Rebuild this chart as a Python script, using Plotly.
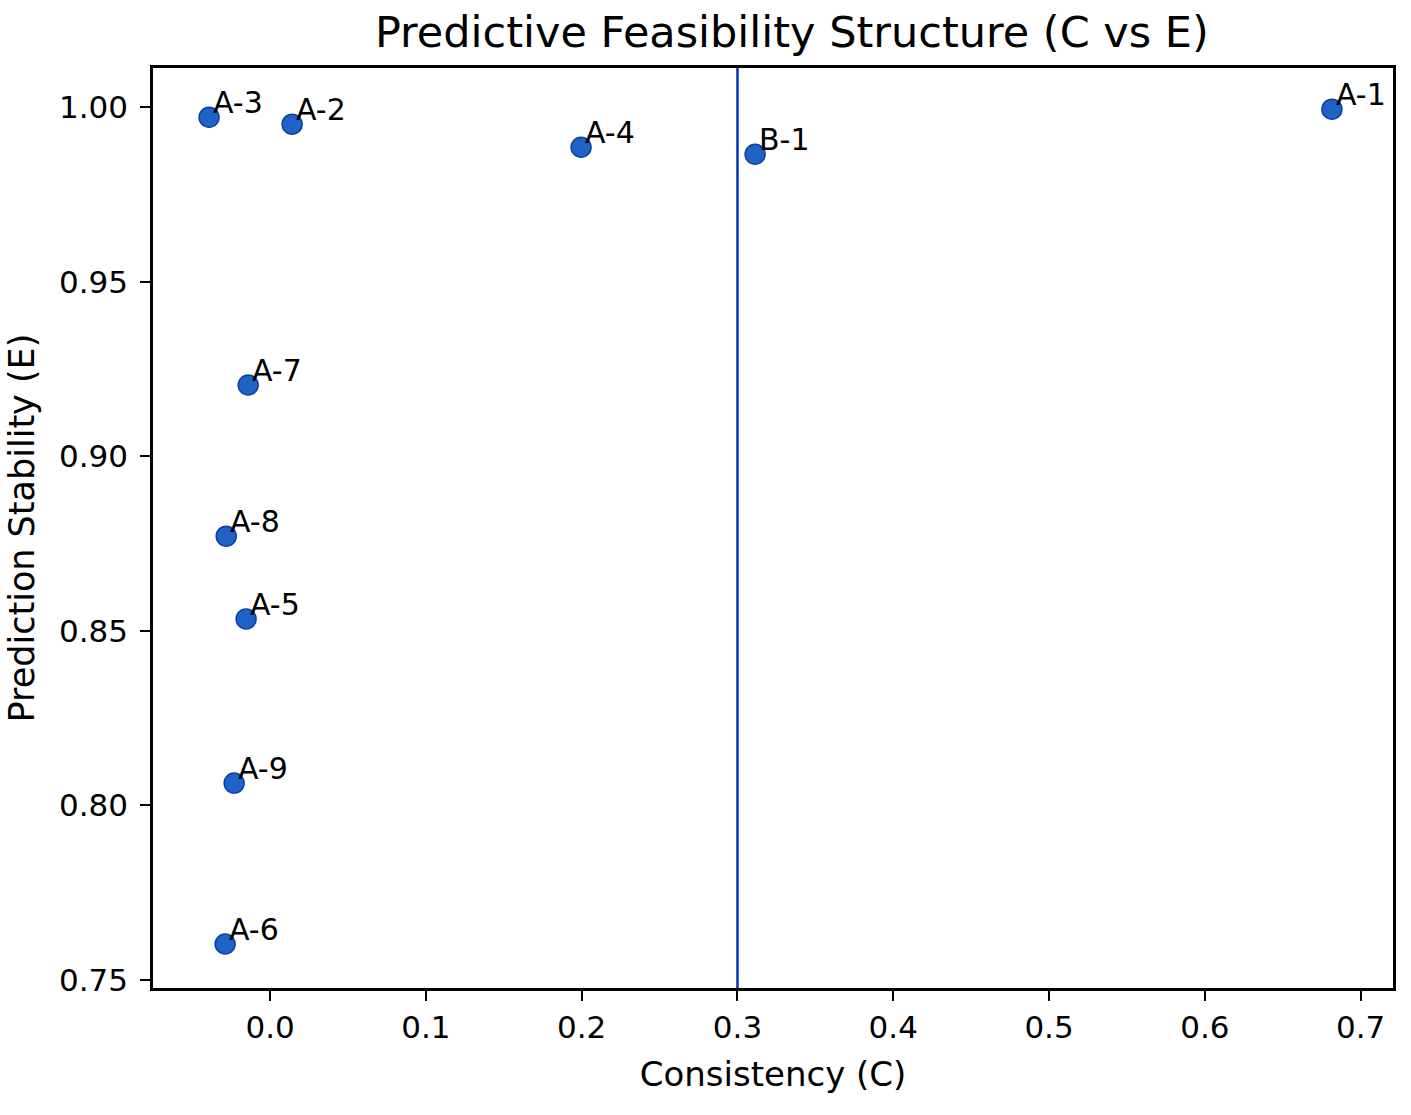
import plotly.graph_objects as go

labels = ["A-1", "A-2", "A-3", "A-4", "A-5", "A-6", "A-7", "A-8", "A-9", "B-1"]
consistency = [0.6816, 0.0141, -0.0392, 0.1996, -0.0154, -0.0289, -0.0141, -0.0282, -0.0231, 0.3113]
stability = [0.9994, 0.9951, 0.9971, 0.9885, 0.8534, 0.7603, 0.9204, 0.8771, 0.8064, 0.9865]
threshold_c = 0.3

x_ticks = [0.0, 0.1, 0.2, 0.3, 0.4, 0.5, 0.6, 0.7]
y_ticks = [0.75, 0.80, 0.85, 0.90, 0.95, 1.00]

FONT = "DejaVu Sans"

fig = go.Figure()
fig.add_trace(go.Scatter(
    x=consistency, y=stability, mode="markers",
    marker=dict(size=20, color="#1f63c6", line=dict(color="#0b3ea6", width=1.5)),
    showlegend=False, hoverinfo="skip",
))

for lab, cx, sy in zip(labels, consistency, stability):
    fig.add_annotation(x=cx, y=sy, text=lab, showarrow=False,
                       xanchor="left", yanchor="bottom", xshift=2, yshift=-5,
                       font=dict(family=FONT, size=30, color="black"))

fig.add_vline(x=threshold_c, line=dict(color="#0036b8", width=2.5))

fig.update_layout(
    width=1411, height=1115,
    margin=dict(l=153, r=18, t=68, b=127),
    paper_bgcolor="white", plot_bgcolor="white",
    font=dict(family=FONT, size=31, color="black"),
    title=dict(text="Predictive Feasibility Structure (C vs E)",
               x=0.5612, xanchor="center", y=1 - 32 / 1115, yanchor="middle",
               font=dict(family=FONT, size=43, color="black")),
    xaxis=dict(range=[-0.0752, 0.7208], tickvals=x_ticks,
               ticktext=[f"{v:.1f}" for v in x_ticks],
               showgrid=False, zeroline=False, showline=True, linecolor="black",
               linewidth=2.5, mirror=True, ticks="outside", ticklen=10, tickwidth=2,
               tickcolor="black",
               title=dict(text="Consistency (C)", font=dict(family=FONT, size=34), standoff=19)),
    yaxis=dict(range=[0.7477, 1.0112], tickvals=y_ticks,
               ticktext=[f"{v:.2f}" for v in y_ticks],
               showgrid=False, zeroline=False, showline=True, linecolor="black",
               linewidth=2.5, mirror=True, ticks="outside", ticklen=10, tickwidth=2,
               tickcolor="black", ticklabelstandoff=6,
               title=dict(text="Prediction Stability (E)", font=dict(family=FONT, size=35), standoff=14)),
)

fig.write_html("out.html")
